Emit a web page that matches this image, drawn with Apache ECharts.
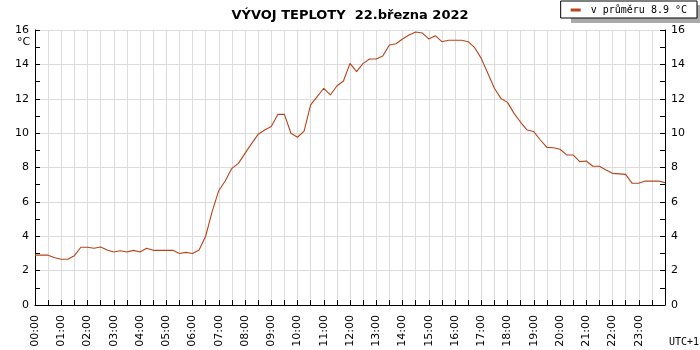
<!DOCTYPE html>
<html><head><meta charset="utf-8">
<script src="https://cdn.jsdelivr.net/npm/echarts@6/dist/echarts.min.js"></script>
<style>html,body{margin:0;padding:0;background:#fff}#c{width:700px;height:350px}</style>
</head><body><div id="c"></div>
<script>
// 15-minute readings, 00:00 .. 24:00
const times = [];
for (let h = 0; h <= 24; h++) for (const m of ['00','15','30','45']) { if (h === 24 && m !== '00') break; times.push(String(h).padStart(2,'0') + ':' + m); }
const temps = [
  2.9, 2.9, 2.9, 2.75, 2.66, 2.66, 2.87, 3.36,
  3.36, 3.3, 3.37, 3.2, 3.08, 3.16, 3.08, 3.18,
  3.08, 3.3, 3.18, 3.18, 3.18, 3.18, 3.0, 3.06,
  3.0, 3.2, 4.0, 5.45, 6.65, 7.23, 7.95, 8.24,
  8.82, 9.39, 9.93, 10.18, 10.38, 11.09, 11.09, 9.99,
  9.76, 10.12, 11.64, 12.12, 12.61, 12.22, 12.74, 13.03,
  14.06, 13.58, 14.06, 14.31, 14.31, 14.49, 15.13, 15.2,
  15.48, 15.71, 15.88, 15.83, 15.48, 15.67, 15.32, 15.4,
  15.4, 15.4, 15.32, 14.97, 14.35, 13.48, 12.61, 12.02,
  11.79, 11.15, 10.63, 10.18, 10.09, 9.6, 9.17, 9.15,
  9.06, 8.73, 8.73, 8.34, 8.38, 8.07, 8.07, 7.85,
  7.66, 7.63, 7.6, 7.08, 7.08, 7.21, 7.21, 7.21,
  7.12
];
const titleText = 'VÝVOJ TEPLOTY  22.března 2022';
const seriesName = 'v průměru 8.9 °C';
const unitText = '°C';
const tzText = 'UTC+1';
const yMin = 0, yMax = 16, yStep = 2;

const lineColor = '#b8441a';
const font = 'DejaVu Sans';
const chart = echarts.init(document.getElementById('c'), null, {renderer: 'canvas'});
const yAxisCommon = {
  type: 'value', min: yMin, max: yMax, interval: yStep,
  axisLine: {show: true, lineStyle: {color: '#000', width: 1}},
  axisTick: {show: true, inside: true, length: 5, lineStyle: {color: '#000'}},
  minorTick: {show: true, splitNumber: 2, length: 5, lineStyle: {color: '#000'}},
  axisLabel: {color: '#000', fontFamily: font, fontSize: 11, margin: 6},
};
chart.setOption({
  animation: false,
  backgroundColor: '#fff',
  title: {text: titleText, left: 'center', top: 4, textStyle: {fontFamily: font, fontSize: 13, fontWeight: 'bold', color: '#000'}},
  legend: {
    right: 3, top: 1, data: [seriesName],
    icon: 'rect', itemWidth: 10, itemHeight: 3,
    backgroundColor: '#fff', borderColor: '#000', borderWidth: 1,
    padding: [4, 10, 3, 10],
    textStyle: {fontFamily: 'DejaVu Sans Mono', fontSize: 10, color: '#000', padding: [0, 0, 0, 5]}
  },
  grid: {left: 35, right: 35, top: 30, bottom: 45},
  xAxis: {
    type: 'category', data: times, boundaryGap: false,
    axisLine: {lineStyle: {color: '#000'}},
    axisTick: {show: true, inside: true, length: 5, interval: 1, lineStyle: {color: '#000'}},
    axisLabel: {interval: 3, rotate: 90, margin: 10, color: '#000', fontFamily: font, fontSize: 11,
      formatter: v => v === '24:00' ? '' : v},
    splitLine: {show: true, interval: 1, lineStyle: {color: '#dcdcdc', width: 1}}
  },
  yAxis: [
    Object.assign({}, yAxisCommon, {position: 'left', splitLine: {show: true, lineStyle: {color: '#dcdcdc', width: 1}}}),
    Object.assign({}, yAxisCommon, {position: 'right', splitLine: {show: false}})
  ],
  graphic: [
    {type: 'rect', z: 0, shape: {x: 571, y: 5, width: 129, height: 18}, style: {fill: '#aaa'}},
    {type: 'text', left: 17, top: 37, style: {text: unitText, fontFamily: font, fontSize: 11, fill: '#000'}},
    {type: 'text', right: 1, bottom: 3, style: {text: tzText, fontFamily: 'DejaVu Sans Mono', fontSize: 10, fill: '#000'}}
  ],
  series: [{
    name: seriesName, type: 'line', data: temps, yAxisIndex: 0,
    showSymbol: false, symbol: 'none', lineStyle: {color: lineColor, width: 1.1}, itemStyle: {color: lineColor}
  }]
});
</script></body></html>
